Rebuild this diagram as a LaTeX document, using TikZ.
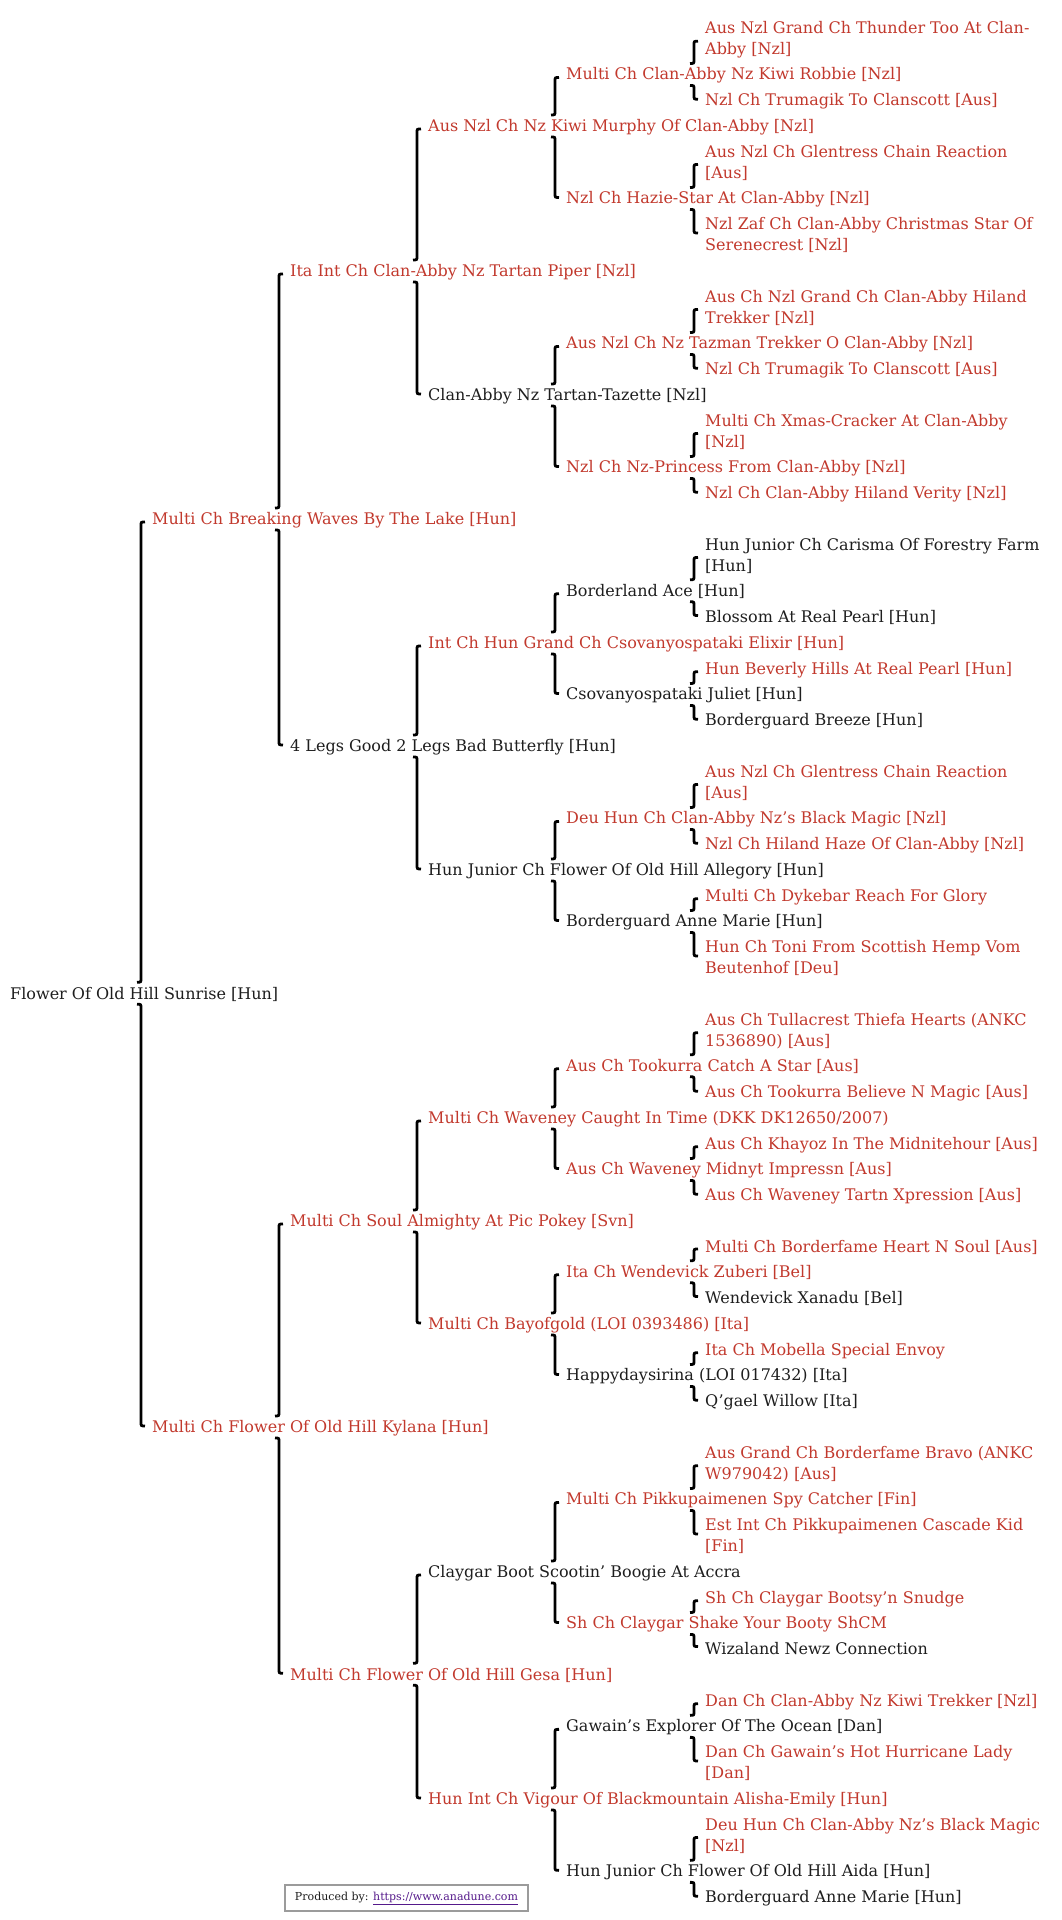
\documentclass[tikz,border=0pt]{standalone}
\usepackage{fontspec}
\setmainfont{DejaVu Serif}
\usetikzlibrary{calc}
\definecolor{champred}{RGB}{194,57,45}
\definecolor{dogblack}{RGB}{30,30,30}
\definecolor{linkpurple}{RGB}{85,26,139}
\definecolor{boxgray}{RGB}{155,155,155}
\tikzset{
  every node/.style={anchor=base west, inner sep=0pt, align=left, font=\fontsize{16}{21}\selectfont},
  champ/.style={text=champred},
  dog/.style={text=dogblack},
  sirebrace/.style={line width=2.8pt, to path={let \p1=(\tikztotarget.west), \p2=(\tikztostart.center) in
    (\x1-7pt,\y1-2pt) .. controls (\x1-11pt,\y1-2pt) .. (\x1-11pt,\y1-6pt)
    -- (\x1-11pt,\y2+16pt) .. controls (\x1-11pt,\y2+12pt) .. (\x1-15pt,\y2+12pt)}},
  dambrace/.style={line width=2.8pt, to path={let \p1=(\tikztotarget.west), \p2=(\tikztostart.center) in
    (\x1-15pt,\y2-10pt) .. controls (\x1-11pt,\y2-10pt) .. (\x1-11pt,\y2-14pt)
    -- (\x1-11pt,\y1+6pt) .. controls (\x1-11pt,\y1+2pt) .. (\x1-7pt,\y1+2pt)}}
}
\begin{document}
\begin{tikzpicture}[x=1pt,y=-1pt]
\useasboundingbox[fill=white] (0,0) rectangle (1061,1920);
% subject
\node[dog] (p) at (10,999.25) {Flower Of Old Hill Sunrise [Hun]};
% sire side
\node[champ] (psssss) at (705,54) {Aus Nzl Grand Ch Thunder Too At Clan-\\Abby [Nzl]};
\node[champ] (pssss) at (566,79.75) {Multi Ch Clan-Abby Nz Kiwi Robbie [Nzl]};
\node[champ] (pssssd) at (705,105.5) {Nzl Ch Trumagik To Clanscott [Aus]};
\node[champ] (psss) at (428,131.25) {Aus Nzl Ch Nz Kiwi Murphy Of Clan-Abby [Nzl]};
\node[champ] (psssds) at (705,178) {Aus Nzl Ch Glentress Chain Reaction\\{}[Aus]};
\node[champ] (psssd) at (566,203.75) {Nzl Ch Hazie-Star At Clan-Abby [Nzl]};
\node[champ] (psssdd) at (705,250.5) {Nzl Zaf Ch Clan-Abby Christmas Star Of\\Serenecrest [Nzl]};
\node[champ] (pss) at (290,276.25) {Ita Int Ch Clan-Abby Nz Tartan Piper [Nzl]};
\node[champ] (pssdss) at (705,323) {Aus Ch Nzl Grand Ch Clan-Abby Hiland\\Trekker [Nzl]};
\node[champ] (pssds) at (566,348.75) {Aus Nzl Ch Nz Tazman Trekker O Clan-Abby [Nzl]};
\node[champ] (pssdsd) at (705,374.5) {Nzl Ch Trumagik To Clanscott [Aus]};
\node[dog] (pssd) at (428,400.25) {Clan-Abby Nz Tartan-Tazette [Nzl]};
\node[champ] (pssdds) at (705,447) {Multi Ch Xmas-Cracker At Clan-Abby\\{}[Nzl]};
\node[champ] (pssdd) at (566,472.75) {Nzl Ch Nz-Princess From Clan-Abby [Nzl]};
\node[champ] (pssddd) at (705,498.5) {Nzl Ch Clan-Abby Hiland Verity [Nzl]};
\node[champ] (ps) at (152,524.25) {Multi Ch Breaking Waves By The Lake [Hun]};
\node[dog] (psdsss) at (705,571) {Hun Junior Ch Carisma Of Forestry Farm\\{}[Hun]};
\node[dog] (psdss) at (566,596.75) {Borderland Ace [Hun]};
\node[dog] (psdssd) at (705,622.5) {Blossom At Real Pearl [Hun]};
\node[champ] (psds) at (428,648.25) {Int Ch Hun Grand Ch Csovanyospataki Elixir [Hun]};
\node[champ] (psdsds) at (705,674) {Hun Beverly Hills At Real Pearl [Hun]};
\node[dog] (psdsd) at (566,699.75) {Csovanyospataki Juliet [Hun]};
\node[dog] (psdsdd) at (705,725.5) {Borderguard Breeze [Hun]};
\node[dog] (psd) at (290,751.25) {4 Legs Good 2 Legs Bad Butterfly [Hun]};
\node[champ] (psddss) at (705,798) {Aus Nzl Ch Glentress Chain Reaction\\{}[Aus]};
\node[champ] (psdds) at (566,823.75) {Deu Hun Ch Clan-Abby Nz's Black Magic [Nzl]};
\node[champ] (psddsd) at (705,849.5) {Nzl Ch Hiland Haze Of Clan-Abby [Nzl]};
\node[dog] (psdd) at (428,875.25) {Hun Junior Ch Flower Of Old Hill Allegory [Hun]};
\node[champ] (psddds) at (705,901) {Multi Ch Dykebar Reach For Glory};
\node[dog] (psddd) at (566,926.75) {Borderguard Anne Marie [Hun]};
\node[champ] (psdddd) at (705,973.5) {Hun Ch Toni From Scottish Hemp Vom\\Beutenhof [Deu]};
% dam side
\node[champ] (pdssss) at (705,1046) {Aus Ch Tullacrest Thiefa Hearts (ANKC\\1536890) [Aus]};
\node[champ] (pdsss) at (566,1071.75) {Aus Ch Tookurra Catch A Star [Aus]};
\node[champ] (pdsssd) at (705,1097.5) {Aus Ch Tookurra Believe N Magic [Aus]};
\node[champ] (pdss) at (428,1123.25) {Multi Ch Waveney Caught In Time (DKK DK12650/2007)};
\node[champ] (pdssds) at (705,1149) {Aus Ch Khayoz In The Midnitehour [Aus]};
\node[champ] (pdssd) at (566,1174.75) {Aus Ch Waveney Midnyt Impressn [Aus]};
\node[champ] (pdssdd) at (705,1200.5) {Aus Ch Waveney Tartn Xpression [Aus]};
\node[champ] (pds) at (290,1226.25) {Multi Ch Soul Almighty At Pic Pokey [Svn]};
\node[champ] (pdsdss) at (705,1252) {Multi Ch Borderfame Heart N Soul [Aus]};
\node[champ] (pdsds) at (566,1277.75) {Ita Ch Wendevick Zuberi [Bel]};
\node[dog] (pdsdsd) at (705,1303.5) {Wendevick Xanadu [Bel]};
\node[champ] (pdsd) at (428,1329.25) {Multi Ch Bayofgold (LOI 0393486) [Ita]};
\node[champ] (pdsdds) at (705,1355) {Ita Ch Mobella Special Envoy};
\node[dog] (pdsdd) at (566,1380.75) {Happydaysirina (LOI 017432) [Ita]};
\node[dog] (pdsddd) at (705,1406.5) {Q'gael Willow [Ita]};
\node[champ] (pd) at (152,1432.25) {Multi Ch Flower Of Old Hill Kylana [Hun]};
\node[champ] (pddsss) at (705,1479) {Aus Grand Ch Borderfame Bravo (ANKC\\W979042) [Aus]};
\node[champ] (pddss) at (566,1504.75) {Multi Ch Pikkupaimenen Spy Catcher [Fin]};
\node[champ] (pddssd) at (705,1551.5) {Est Int Ch Pikkupaimenen Cascade Kid\\{}[Fin]};
\node[dog] (pdds) at (428,1577.25) {Claygar Boot Scootin' Boogie At Accra};
\node[champ] (pddsds) at (705,1603) {Sh Ch Claygar Bootsy'n Snudge};
\node[champ] (pddsd) at (566,1628.75) {Sh Ch Claygar Shake Your Booty ShCM};
\node[dog] (pddsdd) at (705,1654.5) {Wizaland Newz Connection};
\node[champ] (pdd) at (290,1680.25) {Multi Ch Flower Of Old Hill Gesa [Hun]};
\node[champ] (pdddss) at (705,1706) {Dan Ch Clan-Abby Nz Kiwi Trekker [Nzl]};
\node[dog] (pddds) at (566,1731.75) {Gawain's Explorer Of The Ocean [Dan]};
\node[champ] (pdddsd) at (705,1778.5) {Dan Ch Gawain's Hot Hurricane Lady\\{}[Dan]};
\node[champ] (pddd) at (428,1804.25) {Hun Int Ch Vigour Of Blackmountain Alisha-Emily [Hun]};
\node[champ] (pdddds) at (705,1851) {Deu Hun Ch Clan-Abby Nz's Black Magic\\{}[Nzl]};
\node[dog] (pdddd) at (566,1876.75) {Hun Junior Ch Flower Of Old Hill Aida [Hun]};
\node[dog] (pddddd) at (705,1902.5) {Borderguard Anne Marie [Hun]};
% brackets
\foreach \anc in {p,ps,pd,pss,psd,pds,pdd,psss,pssd,psds,psdd,pdss,pdsd,pdds,pddd,
  pssss,psssd,pssds,pssdd,psdss,psdsd,psdds,psddd,pdsss,pdssd,pdsds,pdsdd,pddss,pddsd,pddds,pdddd}{
  \draw[sirebrace] (\anc) to (\anc s);
  \draw[dambrace] (\anc) to (\anc d);
}
\node[draw=boxgray, line width=2pt, anchor=center, minimum width=243pt, minimum height=26pt,
  font=\fontsize{11}{13}\selectfont, text=dogblack] (credit) at (406.5,1898)
  {Produced by: {\color{linkpurple}\underline{https://www.anadune.com}}};
\end{tikzpicture}
\end{document}
